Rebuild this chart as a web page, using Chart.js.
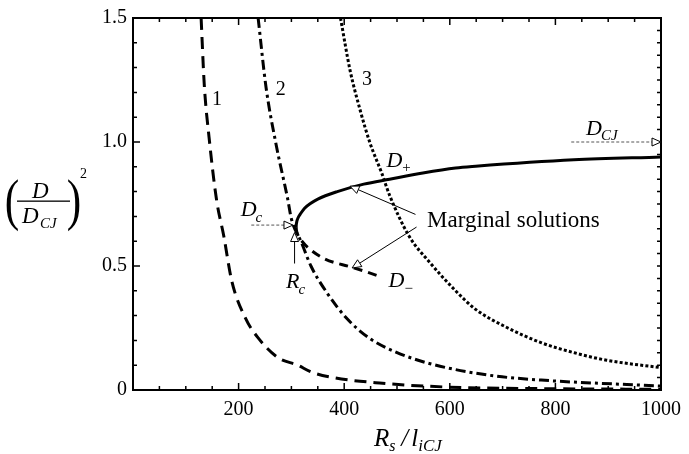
<!DOCTYPE html>
<html>
<head>
<meta charset="utf-8">
<script src="https://cdn.jsdelivr.net/npm/chart.js@4.4.1/dist/chart.umd.min.js"></script>
<style>
  html, body { margin: 0; padding: 0; background: #fff; }
  #wrap { width: 689px; height: 454px; }
</style>
</head>
<body>
<div id="wrap"><canvas id="myChart"></canvas></div>
<script>
// curve 1 (long dash)
var c1X = [129, 135, 144, 158, 172, 187, 213, 237, 275, 312, 337, 374, 467, 593, 800, 1000];
var c1Y = [1.5, 1.23, 1.02, 0.77, 0.62, 0.44, 0.29, 0.21, 0.13, 0.10, 0.073, 0.052, 0.028, 0.012, 0.005, 0.003];
// curve 2 (dash-dot)
var c2X = [237, 252, 271, 293, 300, 318, 337, 368, 406, 449, 499, 561, 673, 773, 1000];
var c2Y = [1.5, 1.22, 0.99, 0.77, 0.69, 0.6, 0.5, 0.39, 0.286, 0.207, 0.152, 0.107, 0.06, 0.04, 0.016];
// curve 3 (dotted)
var c3X = [393, 411, 430, 449, 471, 486, 523, 561, 611, 649, 710, 774, 836, 897, 1000];
var c3Y = [1.5, 1.29, 1.13, 0.995, 0.875, 0.785, 0.62, 0.517, 0.40, 0.325, 0.25, 0.19, 0.15, 0.12, 0.09];
// D+ branch (solid)
var dPlusX = [309, 309.3, 310, 311.3, 313.5, 317, 325, 336, 350, 387, 437, 486, 549, 611, 649, 835, 1000];
var dPlusY = [0.657, 0.667, 0.677, 0.687, 0.698, 0.71, 0.733, 0.752, 0.77, 0.80, 0.83, 0.85, 0.875, 0.895, 0.902, 0.928, 0.94];
// D- branch (dashed)
var dMinusX = [309, 309.5, 311, 314, 320, 331, 362, 411, 440, 470];
var dMinusY = [0.657, 0.645, 0.632, 0.618, 0.600, 0.575, 0.53, 0.497, 0.478, 0.456];

var xTicks = [0, 200, 400, 600, 800, 1000];
var yTicks = [0, 0.5, 1.0, 1.5];

function pts(xs, ys) {
    var out = [];
    for (var i = 0; i < xs.length; i++) out.push({ x: xs[i], y: ys[i] });
    return out;
}

var serif = "'Liberation Serif', 'DejaVu Serif', serif";

function line(data, dash, w) {
    return {
        data: data,
        showLine: true,
        borderColor: '#000',
        borderWidth: w || 3,
        borderDash: dash,
        pointRadius: 0,
        cubicInterpolationMode: 'monotone',
        fill: false
    };
}

// italic letter with a subscript
function subText(ctx, main, sub, x, y, size) {
    ctx.font = 'italic ' + size + 'px ' + serif;
    ctx.textAlign = 'left';
    ctx.textBaseline = 'alphabetic';
    var w = ctx.measureText(main).width;
    ctx.fillText(main, x, y);
    ctx.font = 'italic ' + Math.round(size * 0.68) + 'px ' + serif;
    ctx.fillText(sub, x + w - 1, y + size * 0.25);
}

function arrow(ctx, x1, y1, x2, y2, dashed) {
    var a = Math.atan2(y2 - y1, x2 - x1);
    var len = 9, hw = 4;
    var bx = x2 - len * Math.cos(a), by = y2 - len * Math.sin(a);
    ctx.save();
    ctx.strokeStyle = dashed ? '#555' : '#000';
    ctx.lineWidth = 1;
    if (dashed) ctx.setLineDash([3, 2]);
    ctx.beginPath();
    ctx.moveTo(x1, y1);
    ctx.lineTo(bx, by);
    ctx.stroke();
    ctx.setLineDash([]);
    ctx.strokeStyle = '#000';
    ctx.fillStyle = '#fff';
    ctx.beginPath();
    ctx.moveTo(x2, y2);
    ctx.lineTo(bx + hw * Math.sin(a), by - hw * Math.cos(a));
    ctx.lineTo(bx - hw * Math.sin(a), by + hw * Math.cos(a));
    ctx.closePath();
    ctx.fill();
    ctx.stroke();
    ctx.restore();
}

var framePlugin = {
    id: 'frame',
    afterDatasetsDraw: function (chart) {
        var ctx = chart.ctx, a = chart.chartArea;
        var xs = chart.scales.x, ys = chart.scales.y;
        ctx.save();
        ctx.strokeStyle = '#000';
        ctx.lineWidth = 2;
        ctx.strokeRect(a.left, a.top, a.right - a.left, a.bottom - a.top);
        ctx.lineWidth = 1.5;
        ctx.beginPath();
        for (var v = 50; v < 1000; v += 50) {
            var px = xs.getPixelForValue(v);
            var L = (v % 200 === 0) ? 7 : 4;
            ctx.moveTo(px, a.bottom); ctx.lineTo(px, a.bottom - L);
            ctx.moveTo(px, a.top); ctx.lineTo(px, a.top + L);
        }
        for (var i = 1; i < 15; i++) {
            var py = ys.getPixelForValue(i / 10);
            var L2 = (i % 5 === 0) ? 7 : 4;
            ctx.moveTo(a.left, py); ctx.lineTo(a.left + L2, py);
        }
        for (var j = 1; j < 30; j++) {
            var py2 = ys.getPixelForValue(j / 20);
            ctx.moveTo(a.right, py2); ctx.lineTo(a.right - 4, py2);
        }
        ctx.stroke();
        ctx.restore();
    },
    afterDraw: function (chart) {
        var ctx = chart.ctx;
        var xs = chart.scales.x, ys = chart.scales.y;
        function X(v) { return xs.getPixelForValue(v); }
        function Y(v) { return ys.getPixelForValue(v); }
        ctx.save();
        ctx.fillStyle = '#000';

        // curve numbers
        ctx.font = '20px ' + serif;
        ctx.textAlign = 'center';
        ctx.textBaseline = 'middle';
        ctx.fillText('1', X(159), Y(1.17));
        ctx.fillText('2', X(280), Y(1.21));
        ctx.fillText('3', X(443), Y(1.25));

        // branch labels
        subText(ctx, 'D', '+', X(480), Y(0.9), 22);
        subText(ctx, 'D', '\u2212', X(484), Y(0.415), 22);
        subText(ctx, 'D', 'c', X(204), Y(0.70), 22);
        subText(ctx, 'R', 'c', X(290), Y(0.41), 22);
        subText(ctx, 'D', 'CJ', X(858), Y(1.03), 22);

        ctx.font = '23px ' + serif;
        ctx.textAlign = 'left';
        ctx.textBaseline = 'middle';
        ctx.fillText('Marginal solutions', X(557), Y(0.68));

        // arrows
        arrow(ctx, X(224), Y(0.665), X(303), Y(0.665), true);
        arrow(ctx, X(306), Y(0.51), X(306), Y(0.635), false);
        arrow(ctx, X(830), Y(1.0), X(1000), Y(1.0), true);
        arrow(ctx, X(535), Y(0.708), X(411), Y(0.822), false);
        arrow(ctx, X(537), Y(0.657), X(415), Y(0.492), false);

        // x title  R_s / l_iCJ
        ctx.textAlign = 'left';
        ctx.textBaseline = 'alphabetic';
        ctx.font = 'italic 25px ' + serif;
        var tx = 374, ty = 446;
        ctx.fillText('R', tx, ty);
        var w = ctx.measureText('R').width;
        ctx.font = 'italic 16px ' + serif;
        ctx.fillText('s', tx + w, ty + 5);
        ctx.font = 'italic 25px ' + serif;
        ctx.fillText('/', tx + w + 12, ty);
        ctx.fillText('l', tx + w + 22, ty);
        ctx.font = 'italic 17px ' + serif;
        ctx.fillText('iCJ', tx + w + 29, ty + 5);

        // y title (D / D_CJ)^2
        ctx.font = '58px ' + serif;
        ctx.textAlign = 'center';
        ctx.textBaseline = 'middle';
        ctx.save();
        ctx.translate(12, 204);
        ctx.scale(0.75, 1);
        ctx.fillText('(', 0, 0);
        ctx.restore();
        ctx.save();
        ctx.translate(74, 204);
        ctx.scale(0.75, 1);
        ctx.fillText(')', 0, 0);
        ctx.restore();
        ctx.font = 'italic 23px ' + serif;
        ctx.textAlign = 'left';
        ctx.textBaseline = 'alphabetic';
        ctx.fillText('D', 32, 198);
        ctx.fillRect(17, 200.5, 53, 1.3);
        ctx.fillText('D', 22, 223);
        ctx.font = 'italic 15px ' + serif;
        ctx.fillText('CJ', 40, 228);
        ctx.font = '14px ' + serif;
        ctx.fillText('2', 80, 178);
        ctx.restore();
    }
};

var ctx = document.getElementById('myChart');
var myChart = new Chart(ctx, {
    type: 'scatter',
    data: {
        datasets: [
            line(pts(c1X, c1Y), [12, 7]),
            line(pts(c2X, c2Y), [10, 4, 3, 4]),
            line(pts(c3X, c3Y), [3, 2.2]),
            line(pts(dPlusX, dPlusY), []),
            line(pts(dMinusX, dMinusY), [9, 6])
        ]
    },
    options: {
        responsive: true,
        maintainAspectRatio: false,
        animation: false,
        layout: { padding: { top: 13, right: 21, left: 0, bottom: 0 } },
        plugins: { legend: { display: false }, tooltip: { enabled: false } },
        scales: {
            x: {
                type: 'linear', min: 0, max: 1000,
                grid: { display: false, drawTicks: false },
                border: { display: false },
                afterBuildTicks: function (s) { s.ticks = xTicks.map(function (v) { return { value: v }; }); },
                afterFit: function (s) { s.height = 64; },
                ticks: {
                    color: '#000', padding: 8, maxRotation: 0,
                    font: { family: serif, size: 20 },
                    callback: function (v) { return v === 0 ? '' : String(v); }
                }
            },
            y: {
                min: 0, max: 1.5,
                grid: { display: false, drawTicks: false },
                border: { display: false },
                afterBuildTicks: function (s) { s.ticks = yTicks.map(function (v) { return { value: v }; }); },
                afterFit: function (s) { s.width = 133; },
                ticks: {
                    color: '#000', padding: 6,
                    font: { family: serif, size: 20 },
                    callback: function (v) { return v === 0 ? '0' : v.toFixed(1); }
                }
            }
        }
    },
    plugins: [framePlugin]
});
</script>
</body>
</html>
